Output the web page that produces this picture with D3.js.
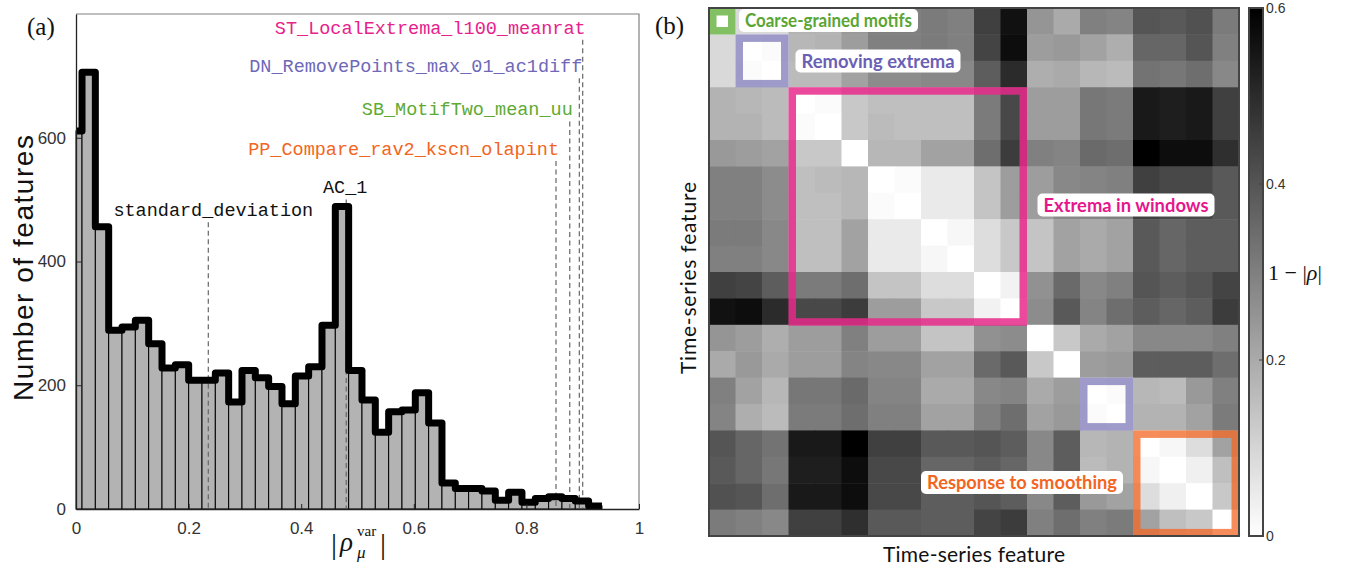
<!DOCTYPE html>
<html>
<head>
<meta charset="utf-8">
<script src="https://cdn.jsdelivr.net/npm/d3@7/dist/d3.min.js"></script>
<style>
  body { margin: 0; background: #fff; }
  svg { display: block; }
</style>
</head>
<body>
<svg id="chart" width="1351" height="565"></svg>
<script>
// ---- panel (a): histogram of |rho_mu^var| ----
const binStart = -0.013;
const binWidth = 0.02368;
const binCounts = [611, 706, 456, 289, 294, 305, 267, 228, 233, 208,
  208, 220, 173, 224, 212, 198, 170, 215, 230, 297,
  489, 224, 176, 124, 157, 160, 188, 139, 42, 33,
  33, 29, 14, 27, 11, 17, 20, 17, 13, 5];
const xTicks = [0, 0.2, 0.4, 0.6, 0.8, 1];
const yTicks = [0, 200, 400, 600];

// highlighted features (position on x, label height in counts)
const featureNames = ["standard_deviation", "AC_1", "PP_Compare_rav2_kscn_olapint",
  "SB_MotifTwo_mean_uu", "DN_RemovePoints_max_01_ac1diff", "ST_LocalExtrema_l100_meanrat"];
const featureRho = [0.235, 0.48, 0.8526, 0.877, 0.894, 0.900];
const featureLabelY = [473, 510, 572, 636, 706, 768];
const featureColors = ["#111", "#111", "#F26522", "#5DAA35", "#6F68B8", "#E6228C"];

// ---- panel (b): 1 - |rho| between 20 features (lower triangle, row by row) ----
const distLower = [
  [0],
  [0.09, 0],
  [0.09, 0.01, 0],
  [0.18, 0.17, 0.16, 0],
  [0.18, 0.18, 0.16, 0.01, 0],
  [0.24, 0.23, 0.22, 0.13, 0.13, 0],
  [0.30, 0.30, 0.27, 0.15, 0.16, 0.17, 0],
  [0.30, 0.30, 0.27, 0.15, 0.15, 0.17, 0.01, 0],
  [0.31, 0.31, 0.28, 0.15, 0.15, 0.22, 0.05, 0.05, 0],
  [0.30, 0.30, 0.28, 0.15, 0.15, 0.22, 0.05, 0.05, 0.02, 0],
  [0.45, 0.44, 0.38, 0.31, 0.31, 0.34, 0.14, 0.14, 0.08, 0.08, 0],
  [0.56, 0.57, 0.50, 0.43, 0.43, 0.46, 0.23, 0.23, 0.13, 0.13, 0.03, 0],
  [0.25, 0.23, 0.19, 0.23, 0.23, 0.30, 0.23, 0.23, 0.14, 0.14, 0.26, 0.27, 0],
  [0.20, 0.24, 0.20, 0.23, 0.23, 0.29, 0.28, 0.28, 0.22, 0.22, 0.35, 0.39, 0.13, 0],
  [0.30, 0.22, 0.17, 0.32, 0.32, 0.35, 0.29, 0.29, 0.20, 0.20, 0.28, 0.29, 0.20, 0.23, 0],
  [0.29, 0.19, 0.16, 0.31, 0.31, 0.34, 0.30, 0.30, 0.22, 0.22, 0.30, 0.34, 0.22, 0.24, 0.01, 0],
  [0.40, 0.36, 0.33, 0.54, 0.54, 0.60, 0.45, 0.45, 0.39, 0.39, 0.40, 0.38, 0.28, 0.38, 0.17, 0.18, 0],
  [0.39, 0.36, 0.32, 0.53, 0.53, 0.57, 0.43, 0.43, 0.36, 0.36, 0.38, 0.36, 0.28, 0.38, 0.16, 0.18, 0.02, 0],
  [0.41, 0.40, 0.34, 0.54, 0.54, 0.57, 0.43, 0.43, 0.38, 0.38, 0.40, 0.38, 0.28, 0.38, 0.24, 0.22, 0.08, 0.035, 0],
  [0.31, 0.30, 0.28, 0.45, 0.45, 0.49, 0.39, 0.39, 0.38, 0.38, 0.44, 0.46, 0.30, 0.34, 0.30, 0.31, 0.22, 0.15, 0.13, 0]
];
const cbTicks = [0, 0.2, 0.4, 0.6];

// clusters outlined on the matrix
const clusterStart = [0, 1, 3, 14, 16];
const clusterSize = [1, 2, 9, 2, 4];
const clusterColors = ["#6DB548", "#7570B3", "#E7298A", "#7570B3", "#F26522"];
const clusterOpacity = [0.85, 0.7, 0.85, 0.7, 0.75];
const clusterNames = ["Coarse-grained motifs", "Removing extrema", "Extrema in windows", "Response to smoothing"];
const clusterNameColors = ["#5BA532", "#6A5FB6", "#E6168C", "#F26522"];

const svg = d3.select("#chart");

// ================= panel (a) =================
const xH = d3.scaleLinear().domain([0, 1]).range([76, 639]);
const yH = d3.scaleLinear().domain([0, 800]).range([509, 14]);

const a = svg.append("g");

// bars
const bins = binCounts.map((c, i) => ({
  x0: Math.max(0, binStart + i * binWidth),
  x1: binStart + (i + 1) * binWidth,
  count: c
}));

a.selectAll(".bar")
  .data(bins)
  .enter()
  .append("rect")
  .attr("class", "bar")
  .attr("x", d => xH(d.x0))
  .attr("y", d => yH(d.count))
  .attr("width", d => xH(d.x1) - xH(d.x0))
  .attr("height", d => yH(0) - yH(d.count))
  .attr("fill", "#b3b3b3")
  .attr("stroke", "#000")
  .attr("stroke-width", 1);

// dashed marker lines
featureRho.forEach((r, i) => {
  a.append("line")
    .attr("x1", xH(r)).attr("x2", xH(r))
    .attr("y1", yH(featureLabelY[i]) + 6)
    .attr("y2", yH(0))
    .attr("stroke", "#666")
    .attr("stroke-width", 1.2)
    .attr("stroke-dasharray", "5,3.5");
});

// thick stairs outline
const stairPts = bins.map(d => [d.x0, d.count]);
stairPts.push([bins[bins.length - 1].x1, bins[bins.length - 1].count]);
a.append("path")
  .attr("d", d3.line().x(d => xH(d[0])).y(d => yH(d[1])).curve(d3.curveStepAfter)(stairPts))
  .attr("fill", "none")
  .attr("stroke", "#000")
  .attr("stroke-width", 7)
  .attr("stroke-linejoin", "round");

// frame (box on)
a.append("path")
  .attr("d", `M${xH(0)},${yH(800)}H${xH(1)}V${yH(0)}`)
  .attr("fill", "none")
  .attr("stroke", "#808080")
  .attr("stroke-width", 1.2);

// axes
const yAxis = a.append("g")
  .attr("transform", `translate(${xH(0)},0)`)
  .call(d3.axisLeft(yH).tickValues(yTicks).tickSizeInner(-5).tickSizeOuter(0).tickPadding(10));
const xAxis = a.append("g")
  .attr("transform", `translate(0,${yH(0)})`)
  .call(d3.axisBottom(xH).tickValues(xTicks).tickFormat(d3.format("~g")).tickSizeInner(-5).tickSizeOuter(0).tickPadding(13));
[yAxis, xAxis].forEach(g => {
  g.select(".domain").attr("stroke", "#222").attr("stroke-width", 1.3);
  g.selectAll(".tick line").attr("stroke", "#222");
  g.selectAll(".tick text")
    .attr("fill", "#333")
    .style("font-family", "'Liberation Sans', Arial, sans-serif")
    .style("font-size", "17px");
});

// feature labels
const monoFont = "'Liberation Mono', 'DejaVu Sans Mono', monospace";
featureNames.forEach((name, i) => {
  const t = a.append("text")
    .attr("y", yH(featureLabelY[i]))
    .attr("fill", featureColors[i])
    .style("font-family", monoFont)
    .style("font-size", "18.5px")
    .text(name);
  if (i < 2) {
    t.attr("x", xH(featureRho[i]) + (i === 0 ? 5 : -1)).attr("text-anchor", "middle");
  } else {
    t.attr("x", xH(featureRho[i]) + 3).attr("text-anchor", "end");
  }
});

// axis titles
a.append("text")
  .attr("transform", `translate(33,268) rotate(-90)`)
  .attr("text-anchor", "middle")
  .attr("fill", "#111")
  .attr("textLength", 266)
  .style("font-family", "'Liberation Sans', Arial, sans-serif")
  .style("font-size", "28px")
  .text("Number of features");

const serif = "'Liberation Serif', 'DejaVu Serif', serif";
const xl = a.append("g").style("font-family", serif).attr("fill", "#111");
xl.append("text").attr("x", 331).attr("y", 554).style("font-size", "30px").text("|");
xl.append("text").attr("x", 340).attr("y", 551).style("font-size", "27px").style("font-style", "italic").text("ρ");
xl.append("text").attr("x", 357).attr("y", 536).style("font-size", "15px").text("var");
xl.append("text").attr("x", 357).attr("y", 558).style("font-size", "17px").style("font-style", "italic").text("μ");
xl.append("text").attr("x", 380).attr("y", 554).style("font-size", "30px").text("|");

svg.append("text")
  .attr("x", 27).attr("y", 35)
  .style("font-family", serif).style("font-size", "25px").attr("fill", "#111")
  .text("(a)");

// ================= panel (b) =================
const n = distLower.length;
const idx = d3.range(n);
const xM = d3.scaleBand().domain(idx).range([709, 1239]);
const yM = d3.scaleBand().domain(idx).range([8, 536]);
const color = d3.scaleLinear().domain([0, 0.6]).range(["#ffffff", "#000000"]).clamp(true);

const cells = [];
idx.forEach(i => idx.forEach(j => {
  cells.push({ i, j, v: i >= j ? distLower[i][j] : distLower[j][i] });
}));

const b = svg.append("g");
b.selectAll(".cell")
  .data(cells)
  .enter()
  .append("rect")
  .attr("class", "cell")
  .attr("x", d => xM(d.j))
  .attr("y", d => yM(d.i))
  .attr("width", xM.bandwidth() + 0.5)
  .attr("height", yM.bandwidth() + 0.5)
  .attr("fill", d => color(d.v));

// cluster boxes
const sw = 7.5;
clusterStart.forEach((s, k) => {
  const x0 = xM(s), y0 = yM(s);
  const w = xM.bandwidth() * clusterSize[k];
  b.append("rect")
    .attr("x", x0 + sw / 2).attr("y", y0 + sw / 2)
    .attr("width", w - sw).attr("height", w - sw)
    .attr("fill", "none")
    .attr("stroke", clusterColors[k])
    .attr("stroke-opacity", clusterOpacity[k])
    .attr("stroke-width", sw);
});

// matrix frame
b.append("rect")
  .attr("x", 709).attr("y", 8).attr("width", 530).attr("height", 528)
  .attr("fill", "none").attr("stroke", "#444").attr("stroke-width", 2);

// cluster name tags
const tagCenters = [[828.5, 20.5], [878, 61], [1126, 205], [1022, 482.5]];
const tagWidths = [167, 153, 165, 190];
const tagFont = "Lato, 'Open Sans', sans-serif";
clusterNames.forEach((name, k) => {
  const [cx, cy] = tagCenters[k];
  const tw = tagWidths[k];
  b.append("rect")
    .attr("x", cx - tw / 2 - 6).attr("y", cy - 11.5)
    .attr("width", tw + 12).attr("height", 23)
    .attr("rx", 5)
    .attr("fill", "#fff");
  b.append("text")
    .attr("x", cx).attr("y", cy + 6.5)
    .attr("text-anchor", "middle")
    .attr("fill", clusterNameColors[k])
    .attr("textLength", tw)
    .attr("lengthAdjust", "spacingAndGlyphs")
    .style("font-family", tagFont)
    .style("font-weight", "bold")
    .style("font-size", "18px")
    .text(name);
});

// axis titles
b.append("text")
  .attr("x", 974).attr("y", 562)
  .attr("text-anchor", "middle")
  .attr("fill", "#111")
  .attr("textLength", 182)
  .style("font-family", tagFont)
  .style("font-size", "21px")
  .text("Time-series feature");
b.append("text")
  .attr("transform", "translate(696,278) rotate(-90)")
  .attr("text-anchor", "middle")
  .attr("fill", "#111")
  .attr("textLength", 192)
  .style("font-family", tagFont)
  .style("font-size", "21px")
  .text("Time-series feature");

svg.append("text")
  .attr("x", 655).attr("y", 34)
  .style("font-family", serif).style("font-size", "25px").attr("fill", "#111")
  .text("(b)");

// colorbar
const cbY = d3.scaleLinear().domain([0, 0.6]).range([536, 8]);
const defs = svg.append("defs");
const grad = defs.append("linearGradient")
  .attr("id", "cbgrad")
  .attr("x1", 0).attr("y1", 1).attr("x2", 0).attr("y2", 0);
d3.range(0, 0.61, 0.1).forEach(v => {
  grad.append("stop").attr("offset", v / 0.6).attr("stop-color", color(v));
});
const cb = svg.append("g");
cb.append("rect")
  .attr("x", 1249).attr("y", 8).attr("width", 14).attr("height", 528)
  .attr("fill", "url(#cbgrad)")
  .attr("stroke", "#444").attr("stroke-width", 2);
cbTicks.forEach(v => {
  cb.append("line")
    .attr("x1", 1259).attr("x2", 1263)
    .attr("y1", cbY(v)).attr("y2", cbY(v))
    .attr("stroke", "#444");
  cb.append("text")
    .attr("x", 1266).attr("y", cbY(v) + 5)
    .attr("fill", "#333")
    .style("font-family", "'Liberation Sans', Arial, sans-serif")
    .style("font-size", "14px")
    .text(d3.format("~g")(v));
});
const cl = cb.append("text")
  .attr("x", 1268).attr("y", 280)
  .attr("fill", "#111")
  .style("font-family", serif)
  .style("font-size", "22px");
cl.append("tspan").text("1 − |");
cl.append("tspan").style("font-style", "italic").text("ρ");
cl.append("tspan").text("|");
</script>
</body>
</html>
